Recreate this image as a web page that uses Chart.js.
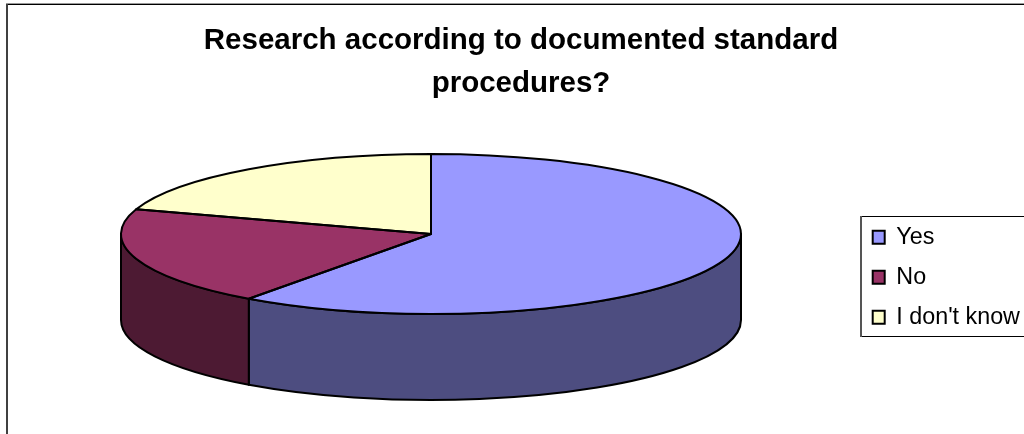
<!DOCTYPE html>
<html>
<head>
<meta charset="utf-8">
<title>Research according to documented standard procedures?</title>
<script src="https://cdn.jsdelivr.net/npm/chart.js@4/dist/chart.umd.js"></script>
<style>
  html, body { margin: 0; padding: 0; background: #fff; overflow: hidden; }
  #wrap { width: 1024px; height: 434px; position: relative; }
</style>
</head>
<body>
<div id="wrap"><canvas id="pasta"></canvas></div>
<script>
const titleLines = ["Research according to documented standard", "procedures?"];
const categories = ["Yes", "No", "I don't know"];
const answers = [60, 20, 20];
const sliceColors = ["#9999FF", "#993366", "#FFFFCC"];
const wallColors = ["#4D4D80", "#4D1A33", "#808066"];

const FONT = "'Liberation Sans', Arial, sans-serif";
const RADIUS = 310;
const FLATTEN = 80 / 310;   // ellipse height / width
const DEPTH = 86;

// Flatten the round pie into a tilted disc, walls go underneath
const disc3d = {
  id: "disc3d",
  beforeDatasetsDraw(chart) {
    const ctx = chart.ctx;
    const arcs = chart.getDatasetMeta(0).data;

    ctx.save();
    ctx.strokeStyle = "#000";
    ctx.lineWidth = 2;
    ctx.lineJoin = "round";
    arcs.forEach((arc, i) => {
      const lo = Math.max(arc.startAngle, 0);
      const hi = Math.min(arc.endAngle, Math.PI);
      if (lo >= hi) return;
      const r = arc.outerRadius;
      ctx.beginPath();
      ctx.ellipse(arc.x, arc.y, r, r * FLATTEN, 0, lo, hi);
      ctx.ellipse(arc.x, arc.y + DEPTH, r, r * FLATTEN, 0, hi, lo, true);
      ctx.closePath();
      ctx.fillStyle = wallColors[i];
      ctx.fill();
      ctx.stroke();
    });
    ctx.restore();

    const c = arcs[0];
    ctx.save();
    ctx.translate(c.x, c.y);
    ctx.scale(1, FLATTEN);
    ctx.translate(-c.x, -c.y);
  },
  afterDatasetsDraw(chart) {
    const ctx = chart.ctx;
    ctx.restore();

    // Outline here, a scaled border would get thin at top and bottom
    ctx.save();
    ctx.strokeStyle = "#000";
    ctx.lineWidth = 2;
    ctx.lineJoin = "round";
    chart.getDatasetMeta(0).data.forEach(arc => {
      const r = arc.outerRadius;
      ctx.beginPath();
      ctx.moveTo(arc.x, arc.y);
      ctx.ellipse(arc.x, arc.y, r, r * FLATTEN, 0, arc.startAngle, arc.endAngle);
      ctx.closePath();
      ctx.stroke();
    });
    ctx.restore();
  }
};

// Chart frame and legend box, both run off the right edge like the original
const frames = {
  id: "frames",
  afterLayout(chart) {
    chart.titleBlock.left = 9;
    chart.titleBlock.right = 1024 + 9;
    const legend = chart.legend;
    legend.left = 856;
    legend.top = 209;
    legend.right = legend.left + legend.width;
    legend.bottom = legend.top + legend.height;
  },
  beforeDraw(chart) {
    const ctx = chart.ctx;
    ctx.save();
    ctx.fillStyle = "#fff";
    ctx.fillRect(0, 0, chart.width, chart.height);
    ctx.fillStyle = "#999";
    ctx.fillRect(6, 3, chart.width, 1);
    ctx.fillStyle = "#000";
    ctx.fillRect(7, 4, chart.width, 1);
    ctx.fillStyle = "#404040";
    ctx.fillRect(6, 4, 2, chart.height);

    ctx.fillStyle = "#000";
    ctx.fillRect(860, 216, chart.width, 1);
    ctx.fillRect(860, 336, chart.width, 1);
    ctx.fillStyle = "#555";
    ctx.fillRect(860, 216, 2, 121);
    ctx.restore();
  }
};

new Chart(document.getElementById("pasta"), {
  type: "pie",
  data: {
    labels: categories,
    datasets: [{
      data: answers,
      backgroundColor: sliceColors,
      borderWidth: 0,
      radius: RADIUS,
      clip: false
    }]
  },
  plugins: [frames, disc3d],
  options: {
    responsive: true,
    maintainAspectRatio: false,
    animation: false,
    layout: { padding: { left: 0, right: 162, top: 0, bottom: 71 } },
    plugins: {
      tooltip: { enabled: false },
      title: {
        display: true,
        text: titleLines,
        color: "#000",
        font: { family: FONT, size: 29.5, weight: "bold", lineHeight: 43 / 29.5 },
        padding: { top: 19, bottom: 0 }
      },
      legend: {
        display: true,
        position: "chartArea",
        align: "start",
        labels: {
          color: "#000",
          font: { family: FONT, size: 23.3 },
          boxWidth: 12,
          boxHeight: 13,
          padding: 16.7,
          generateLabels(chart) {
            const items = Chart.overrides.pie.plugins.legend.labels.generateLabels(chart);
            items.forEach(it => {
              it.strokeStyle = "#000";
              it.lineWidth = 2;
            });
            return items;
          }
        }
      }
    }
  }
});
</script>
</body>
</html>
